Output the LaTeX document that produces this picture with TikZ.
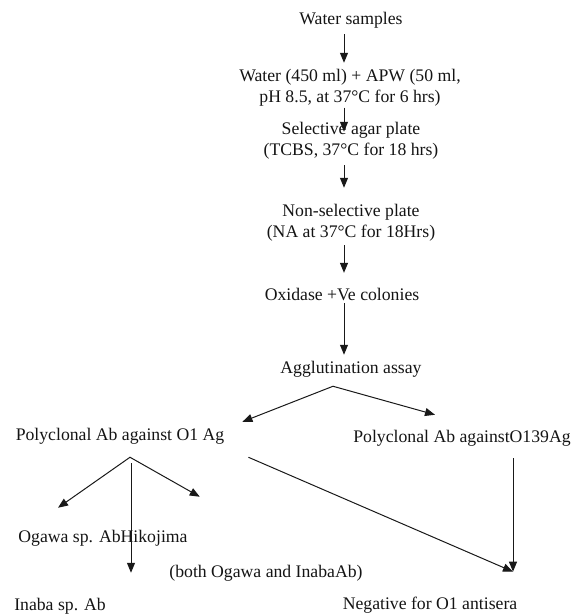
\documentclass[tikz,border=0pt]{standalone}
\usepackage{fontspec}
\setmainfont{Liberation Serif}
\usetikzlibrary{arrows.meta}
\begin{document}
\begin{tikzpicture}[x=1pt,y=-1pt,
  lbl/.style={inner sep=1pt,align=center,text=black!92,font=\fontsize{17.7}{21}\selectfont},
  arr/.style={draw=black!90,line width=1pt,-{Triangle[length=10pt,width=8pt]}},
  barr/.style={draw=black!90,line width=1pt,{Triangle[length=10pt,width=8pt]}-{Triangle[length=10pt,width=8pt]}}]
\useasboundingbox (0,0) rectangle (587,614);
\node[lbl] (ws) at (351,20) {Water samples};
\node[lbl] (w450) at (350,88) {Water (450 ml) + APW (50 ml,\\pH 8.5, at 37°C for 6 hrs)};
\node[lbl] (sel) at (351,141) {Selective agar plate\\(TCBS, 37°C for 18 hrs)};
\node[lbl] (ns) at (351,223) {Non-selective plate\\(NA at 37°C for 18Hrs)};
\node[lbl] (ox) at (342,294) {Oxidase +Ve colonies};
\node[lbl] (ag) at (351,369) {Agglutination assay};
\node[lbl] (o1) at (120,436) {Polyclonal Ab against O1 Ag};
\node[lbl] (o139) at (462,438) {Polyclonal Ab againstO139Ag};
\node[lbl] (og) at (103,538) {Ogawa sp. AbHikojima};
\node[lbl] (both) at (266,573) {(both Ogawa and InabaAb)};
\node[lbl] (inaba) at (60,606) {Inaba sp. Ab};
\node[lbl] (neg) at (430,605) {Negative for O1 antisera};
% main chain
\draw[arr] ([shift={(-7,5)}]ws.south) -- ([shift={(-6,-5.5)}]w450.north);
\draw[arr] ([shift={(-6,0)}]w450.south) -- ([shift={(-7,10.5)}]sel.north);
\draw[arr] ([shift={(-7,4.5)}]sel.south) -- ([shift={(-7,-15.5)}]ns.north);
\draw[arr] ([shift={(-7,2.5)}]ns.south) -- ([shift={(2,-13.7)}]ox.north);
\draw[arr] ([shift={(2,1.7)}]ox.south) -- ([shift={(-7,-5)}]ag.north);
% agglutination split
\coordinate (agx) at ([shift={(-18,8)}]ag.south);
\draw[barr] ([shift={(17,-5)}]o1.north east) -- (agx) -- ([shift={(-27,-14)}]o139.north);
% O1 branches
\coordinate (o1x) at ([shift={(10,12)}]o1.south);
\draw[barr] ([shift={(-45,-21)}]og.north) -- (o1x) -- ([shift={(11,-32)}]og.north east);
\draw[arr] ([shift={(11,18)}]o1.south) -- ([shift={(71,-24)}]inaba.north);
\draw[arr] ([shift={(23,12)}]o1.south east) -- ([shift={(83,-24)}]neg.north);
\draw[arr] ([shift={(51,11)}]o139.south) -- ([shift={(83,-24)}]neg.north);
\end{tikzpicture}
\end{document}
